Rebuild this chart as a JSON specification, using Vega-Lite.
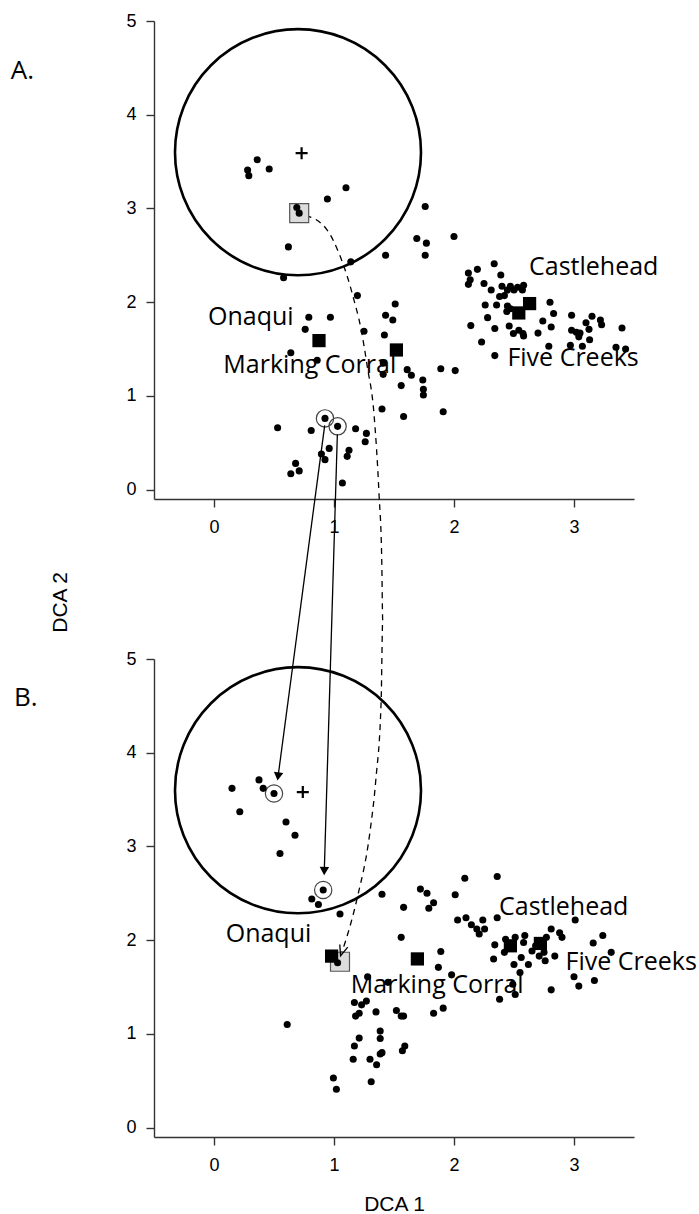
{
  "$schema": "https://vega.github.io/schema/vega-lite/v6.json",
  "background": "white",
  "padding": {"top": 12, "left": 10, "right": 5, "bottom": 5},
  "bounds": "flush",
  "spacing": 160,
  "config": {
    "view": {"stroke": null},
    "axis": {"grid": false, "domainColor": "#333", "domainWidth": 1.4, "tickColor": "#333", "tickWidth": 1.4, "tickSize": 8, "labelColor": "#000", "labelFont": "Liberation Sans", "labelFontSize": 18, "titleFont": "Liberation Sans", "titleFontSize": 21, "titleFontWeight": "normal", "titleColor": "#000"},
    "axisX": {"labelPadding": 11},
    "axisY": {"labelPadding": 10, "labelAngle": 0}
  },
  "datasets": {
    "ptsA": [
      {"x":0.36,"y":3.52},{"x":0.28,"y":3.41},{"x":0.29,"y":3.35},{"x":0.46,"y":3.42},{"x":0.945,"y":3.10},{"x":1.10,"y":3.22},{"x":0.69,"y":3.01},{"x":0.71,"y":2.95},{"x":0.62,"y":2.59},
      {"x":1.76,"y":3.02},{"x":2.0,"y":2.70},{"x":1.69,"y":2.68},{"x":1.77,"y":2.63},{"x":1.76,"y":2.50},{"x":1.43,"y":2.50},{"x":1.14,"y":2.43},{"x":0.58,"y":2.26},
      {"x":1.195,"y":2.07},{"x":1.51,"y":1.98},{"x":0.79,"y":1.84},{"x":0.97,"y":1.84},{"x":0.76,"y":1.71},{"x":1.43,"y":1.86},{"x":1.49,"y":1.81},{"x":1.25,"y":1.69},{"x":1.42,"y":1.65},
      {"x":0.64,"y":1.46},{"x":0.86,"y":1.38},{"x":1.41,"y":1.35},{"x":1.41,"y":1.23},{"x":1.61,"y":1.28},{"x":1.645,"y":1.22},{"x":1.56,"y":1.11},{"x":1.74,"y":1.17},{"x":1.745,"y":1.07},{"x":1.745,"y":1.01},{"x":1.89,"y":1.29},{"x":2.01,"y":1.27},
      {"x":1.40,"y":0.86},{"x":1.58,"y":0.78},{"x":1.91,"y":0.83},{"x":0.925,"y":0.76},{"x":1.03,"y":0.675},{"x":0.53,"y":0.66},{"x":0.81,"y":0.63},{"x":1.18,"y":0.65},{"x":1.27,"y":0.60},{"x":1.26,"y":0.51},{"x":0.96,"y":0.44},{"x":0.895,"y":0.38},{"x":0.925,"y":0.32},{"x":1.125,"y":0.42},{"x":1.11,"y":0.355},{"x":0.68,"y":0.28},{"x":0.64,"y":0.17},{"x":0.71,"y":0.20},{"x":1.07,"y":0.07},
      {"x":2.335,"y":2.41},{"x":2.195,"y":2.35},{"x":2.12,"y":2.31},{"x":2.135,"y":2.24},{"x":2.12,"y":2.19},{"x":2.39,"y":2.29},{"x":2.25,"y":2.20},{"x":2.31,"y":2.13},{"x":2.40,"y":2.17},{"x":2.445,"y":2.13},{"x":2.47,"y":2.17},{"x":2.50,"y":2.13},{"x":2.53,"y":2.16},{"x":2.58,"y":2.18},{"x":2.57,"y":2.13},{"x":2.38,"y":2.06},{"x":2.42,"y":2.07},{"x":2.26,"y":1.97},{"x":2.355,"y":1.97},{"x":2.445,"y":1.96},{"x":2.44,"y":1.90},{"x":2.47,"y":1.93},{"x":2.28,"y":1.835},{"x":2.14,"y":1.75},{"x":2.34,"y":1.72},{"x":2.46,"y":1.745},{"x":2.495,"y":1.665},{"x":2.575,"y":1.665},{"x":2.58,"y":1.64},{"x":2.54,"y":1.70},{"x":2.23,"y":1.575},{"x":2.34,"y":1.43},{"x":2.70,"y":1.67},{"x":2.74,"y":1.80},{"x":2.80,"y":2.00},{"x":2.83,"y":1.88},{"x":2.81,"y":1.735},{"x":2.79,"y":1.53},{"x":2.98,"y":1.86},{"x":2.98,"y":1.70},{"x":3.02,"y":1.68},{"x":3.05,"y":1.67},{"x":3.04,"y":1.63},{"x":3.10,"y":1.78},{"x":3.125,"y":1.71},{"x":3.13,"y":1.60},{"x":3.15,"y":1.85},{"x":3.22,"y":1.81},{"x":3.23,"y":1.76},{"x":2.97,"y":1.54},{"x":3.07,"y":1.53},{"x":3.40,"y":1.725},{"x":3.35,"y":1.52},{"x":3.43,"y":1.50}
    ],
    "ptsB": [
      {"x":0.15,"y":3.62},{"x":0.375,"y":3.71},{"x":0.41,"y":3.62},{"x":0.50,"y":3.565},{"x":0.215,"y":3.37},{"x":0.60,"y":3.26},{"x":0.675,"y":3.12},{"x":0.55,"y":2.925},{"x":0.91,"y":2.535},{"x":0.815,"y":2.44},{"x":0.87,"y":2.38},{"x":1.05,"y":2.28},{"x":1.40,"y":2.49},{"x":1.58,"y":2.35},{"x":1.72,"y":2.545},{"x":1.775,"y":2.50},{"x":1.83,"y":2.40},{"x":1.79,"y":2.34},{"x":1.56,"y":2.03},{"x":1.03,"y":1.76},{"x":1.89,"y":1.88},{"x":1.87,"y":1.71},{"x":1.28,"y":1.61},{"x":1.45,"y":1.55},{"x":1.17,"y":1.335},{"x":1.23,"y":1.31},{"x":1.27,"y":1.35},{"x":1.18,"y":1.19},{"x":1.21,"y":1.22},{"x":1.35,"y":1.235},{"x":1.52,"y":1.25},{"x":1.56,"y":1.19},{"x":1.58,"y":1.19},{"x":1.83,"y":1.22},{"x":1.91,"y":1.275},{"x":0.61,"y":1.10},{"x":1.385,"y":1.03},{"x":1.385,"y":0.95},{"x":1.21,"y":0.955},{"x":1.17,"y":0.87},{"x":1.40,"y":0.80},{"x":1.385,"y":0.785},{"x":1.59,"y":0.87},{"x":1.57,"y":0.82},{"x":1.16,"y":0.73},{"x":1.30,"y":0.73},{"x":1.355,"y":0.67},{"x":0.995,"y":0.53},{"x":1.02,"y":0.41},{"x":1.31,"y":0.49},
      {"x":2.09,"y":2.66},{"x":2.36,"y":2.68},{"x":2.01,"y":2.485},{"x":2.03,"y":2.215},{"x":2.10,"y":2.24},{"x":2.145,"y":2.165},{"x":2.19,"y":2.12},{"x":2.24,"y":2.215},{"x":2.255,"y":2.12},{"x":2.21,"y":2.065},{"x":2.36,"y":2.24},{"x":3.01,"y":2.215},{"x":3.24,"y":2.05},{"x":3.16,"y":1.97},{"x":3.31,"y":1.87},{"x":2.34,"y":1.95},{"x":2.33,"y":1.80},{"x":2.43,"y":2.01},{"x":2.47,"y":1.94},{"x":2.51,"y":2.03},{"x":2.42,"y":1.87},{"x":2.50,"y":1.74},{"x":2.56,"y":1.815},{"x":2.59,"y":2.05},{"x":2.58,"y":1.975},{"x":2.62,"y":1.74},{"x":2.65,"y":1.885},{"x":2.68,"y":1.94},{"x":2.71,"y":1.83},{"x":2.75,"y":1.87},{"x":2.76,"y":1.78},{"x":2.81,"y":2.12},{"x":2.84,"y":1.83},{"x":2.88,"y":2.08},{"x":2.90,"y":2.03},{"x":2.77,"y":2.03},{"x":3.00,"y":1.61},{"x":3.04,"y":1.51},{"x":3.17,"y":1.57},{"x":2.81,"y":1.47},{"x":2.49,"y":1.53},{"x":2.51,"y":1.42},{"x":2.55,"y":1.655},{"x":2.38,"y":1.37},{"x":1.98,"y":1.63}
    ],
    "centA": [{"x":0.875,"y":1.59},{"x":1.52,"y":1.49},{"x":2.63,"y":1.985},{"x":2.54,"y":1.885}],
    "centB": [{"x":0.98,"y":1.83},{"x":1.695,"y":1.80},{"x":2.47,"y":1.94},{"x":2.72,"y":1.965}],
    "greyA": [{"x":0.71,"y":2.95}],
    "greyB": [{"x":1.05,"y":1.77}],
    "ringA": [{"x":0.925,"y":0.76},{"x":1.03,"y":0.675}],
    "ringB": [{"x":0.50,"y":3.565},{"x":0.91,"y":2.535}],
    "plusA": [{"x":0.73,"y":3.59}],
    "plusB": [{"x":0.74,"y":3.58}],
    "circA": [{"x":0.70,"y":3.60}],
    "circB": [{"x":0.70,"y":3.60}],
    "labA": [
      {"x":2.625,"y":2.376,"text":"Castlehead"},{"x":2.445,"y":1.40,"text":"Five Creeks"},{"x":-0.05,"y":1.84,"text":"Onaqui"},{"x":0.078,"y":1.33,"text":"Marking Corral"}
    ],
    "labB": [
      {"x":2.375,"y":2.353,"text":"Castlehead"},{"x":2.93,"y":1.762,"text":"Five Creeks"},{"x":0.0975,"y":2.07,"text":"Onaqui"},{"x":1.14,"y":1.52,"text":"Marking Corral"}
    ],
    "letterA": [{"x":-1.694,"y":4.466,"text":"A."}],
    "letterB": [{"x":-1.667,"y":4.584,"text":"B."}],
    "ytitle": [{"x":-1.278,"y":-1.203,"text":"DCA 2"}],
    "dash": [
      {"k":1,"x":0.764,"y":2.927},{"k":2,"x":0.945,"y":2.767},{"k":3,"x":1.042,"y":2.519},{"k":4,"x":1.112,"y":2.269},{"k":5,"x":1.167,"y":2.020},{"k":6,"x":1.222,"y":1.735},{"k":7,"x":1.278,"y":1.308},{"k":8,"x":1.333,"y":0.811},{"k":9,"x":1.375,"y":-0.043},{"k":10,"x":1.398,"y":-0.755},{"k":11,"x":1.406,"y":-1.395},{"k":12,"x":1.393,"y":-2.249},{"k":13,"x":1.348,"y":-3.103},{"k":14,"x":1.298,"y":-3.668},{"k":15,"x":1.195,"y":-4.348},{"k":16,"x":1.098,"y":-4.810},{"k":17,"x":1.056,"y":-4.970}
    ],
    "arrows": [
      {"x":0.9225,"y":0.686,"x2":0.534,"y2":-3.06},
      {"x":1.028,"y":0.59,"x2":0.919,"y2":-4.07}
    ],
    "heads": [
      {"x":0.534,"y":-3.06,"deg":7.5},
      {"x":0.919,"y":-4.07,"deg":1.7}
    ],
    "vhead": [{"x":1.068,"y":1.887,"deg":18}]
  },
  "vconcat": [
    {
      "width": 480,
      "height": 478,
      "encoding": {
        "x": {"field": "x", "type": "quantitative", "scale": {"domain": [-0.5, 3.5], "nice": false, "zero": false}, "axis": {"values": [0, 1, 2, 3], "title": null}},
        "y": {"field": "y", "type": "quantitative", "scale": {"domain": [-0.1, 5], "nice": false, "zero": false}, "axis": {"values": [0, 1, 2, 3, 4, 5], "title": null}}
      },
      "layer": [
        {"data": {"name": "circA"}, "mark": {"type": "point", "shape": "circle", "size": 60516, "filled": false, "stroke": "#000", "strokeWidth": 2.6, "opacity": 1}},
        {"data": {"name": "dash"}, "mark": {"type": "line", "stroke": "#000", "strokeWidth": 1.3, "strokeDash": [6, 5], "interpolate": "monotone"}, "encoding": {"order": {"field": "k", "type": "quantitative"}}},
        {"data": {"name": "greyA"}, "mark": {"type": "point", "shape": "square", "size": 361, "filled": true, "fill": "#dcdcdc", "stroke": "#555", "strokeWidth": 1.2, "opacity": 1}},
        {"data": {"name": "ringA"}, "mark": {"type": "point", "shape": "circle", "size": 300, "filled": false, "stroke": "#444", "strokeWidth": 1.2, "opacity": 1}},
        {"data": {"name": "ptsA"}, "mark": {"type": "circle", "size": 50, "color": "#000", "opacity": 1}},
        {"data": {"name": "centA"}, "mark": {"type": "square", "size": 175, "color": "#000", "opacity": 1}},
        {"data": {"name": "plusA"}, "mark": {"type": "point", "shape": "M-1,0L1,0M0,-1L0,1", "size": 144, "filled": false, "stroke": "#000", "strokeWidth": 2.2, "opacity": 1}},
        {"data": {"name": "labA"}, "mark": {"type": "text", "align": "left", "baseline": "middle", "font": "Open Sans", "fontSize": 25, "color": "#000"}, "encoding": {"text": {"field": "text"}}},
        {"data": {"name": "letterA"}, "mark": {"type": "text", "align": "left", "baseline": "middle", "font": "Open Sans", "fontSize": 26, "color": "#000"}, "encoding": {"text": {"field": "text"}}},
        {"data": {"name": "ytitle"}, "mark": {"type": "text", "align": "center", "baseline": "middle", "angle": 270, "font": "Liberation Sans", "fontSize": 21, "color": "#000"}, "encoding": {"text": {"field": "text"}}},
        {"data": {"name": "arrows"}, "mark": {"type": "rule", "stroke": "#000", "strokeWidth": 1.3}, "encoding": {"x2": {"field": "x2"}, "y2": {"field": "y2"}}},
        {"data": {"name": "heads"}, "mark": {"type": "point", "shape": "triangle-down", "size": 90, "filled": true, "color": "#000", "opacity": 1}, "encoding": {"angle": {"field": "deg", "type": "quantitative", "scale": null}}}
      ]
    },
    {
      "width": 480,
      "height": 478,
      "encoding": {
        "x": {"field": "x", "type": "quantitative", "scale": {"domain": [-0.5, 3.5], "nice": false, "zero": false}, "axis": {"values": [0, 1, 2, 3], "title": "DCA 1", "titlePadding": 19}},
        "y": {"field": "y", "type": "quantitative", "scale": {"domain": [-0.1, 5], "nice": false, "zero": false}, "axis": {"values": [0, 1, 2, 3, 4, 5], "title": null}}
      },
      "layer": [
        {"data": {"name": "circB"}, "mark": {"type": "point", "shape": "circle", "size": 60516, "filled": false, "stroke": "#000", "strokeWidth": 2.6, "opacity": 1}},
        {"data": {"name": "greyB"}, "mark": {"type": "point", "shape": "square", "size": 361, "filled": true, "fill": "#dcdcdc", "stroke": "#555", "strokeWidth": 1.2, "opacity": 1}},
        {"data": {"name": "ringB"}, "mark": {"type": "point", "shape": "circle", "size": 300, "filled": false, "stroke": "#444", "strokeWidth": 1.2, "opacity": 1}},
        {"data": {"name": "ptsB"}, "mark": {"type": "circle", "size": 50, "color": "#000", "opacity": 1}},
        {"data": {"name": "centB"}, "mark": {"type": "square", "size": 175, "color": "#000", "opacity": 1}},
        {"data": {"name": "plusB"}, "mark": {"type": "point", "shape": "M-1,0L1,0M0,-1L0,1", "size": 144, "filled": false, "stroke": "#000", "strokeWidth": 2.2, "opacity": 1}},
        {"data": {"name": "vhead"}, "mark": {"type": "point", "shape": "M-0.8,-1L0,1L0.8,-1", "size": 110, "filled": false, "stroke": "#000", "strokeWidth": 1.3, "opacity": 1}, "encoding": {"angle": {"field": "deg", "type": "quantitative", "scale": null}}},
        {"data": {"name": "labB"}, "mark": {"type": "text", "align": "left", "baseline": "middle", "font": "Open Sans", "fontSize": 25, "color": "#000"}, "encoding": {"text": {"field": "text"}}},
        {"data": {"name": "letterB"}, "mark": {"type": "text", "align": "left", "baseline": "middle", "font": "Open Sans", "fontSize": 26, "color": "#000"}, "encoding": {"text": {"field": "text"}}}
      ]
    }
  ]
}
